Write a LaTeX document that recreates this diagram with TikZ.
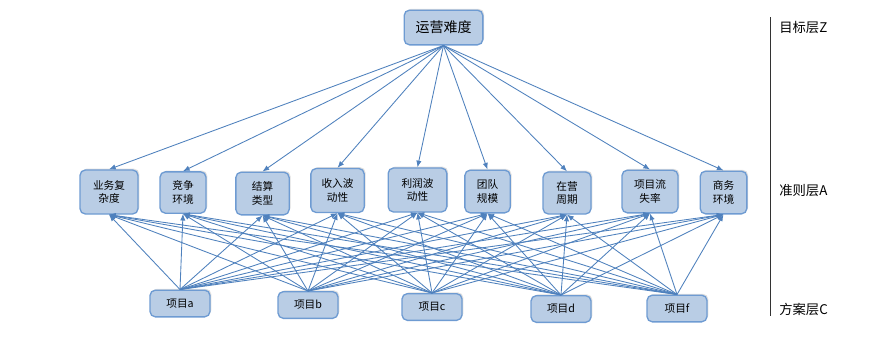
\documentclass[tikz,border=0pt]{standalone}
\usepackage{fontspec}
\setmainfont{Noto Sans CJK SC}
\usepackage{xcolor}
\usetikzlibrary{arrows, arrows.meta, shadows}

\definecolor{boxfill}{RGB}{185,205,229}
\definecolor{boxline}{RGB}{110,155,210}
\definecolor{linkblue}{RGB}{79,129,189}

\tikzset{
  layerbox/.style={draw=boxline, line width=1pt, fill=boxfill, rounded corners=4pt,
    align=center, inner sep=0pt, font=\fontsize{8}{10}\selectfont,
    drop shadow={opacity=0.25, shadow xshift=1pt, shadow yshift=1pt}},
  link/.style={draw=linkblue, line width=0.65pt, -{Latex[length=5pt,width=4pt]}},
  layerlabel/.style={anchor=west, inner sep=0pt, font=\fontsize{10}{12}\selectfont}
}

\begin{document}
\begin{tikzpicture}[x=0.75pt,y=0.75pt,yscale=-1,xscale=1]
\useasboundingbox (0,0) rectangle (895,336);

% goal
\node [layerbox, minimum width=59pt, minimum height=26pt, font=\fontsize{10.5}{12}\selectfont] (goal) at (443.5,27.5) {运营难度};

% criteria
\node [layerbox, minimum width=43.5pt, minimum height=33pt] (crit1) at (109,192) {业务复\\杂度};
\node [layerbox, minimum width=34.5pt, minimum height=31pt] (crit2) at (183,192.5) {竞争\\环境};
\node [layerbox, minimum width=40pt, minimum height=32pt] (crit3) at (262.5,193.5) {结算\\类型};
\node [layerbox, minimum width=40pt, minimum height=33pt] (crit4) at (337.5,190.5) {收入波\\动性};
\node [layerbox, minimum width=44pt, minimum height=33pt] (crit5) at (417.5,190) {利润波\\动性};
\node [layerbox, minimum width=34pt, minimum height=32pt] (crit6) at (487.5,191.5) {团队\\规模};
\node [layerbox, minimum width=36pt, minimum height=31.5pt] (crit7) at (567,193) {在营\\周期};
\node [layerbox, minimum width=42pt, minimum height=32pt] (crit8) at (650,191.5) {项目流\\失率};
\node [layerbox, minimum width=35pt, minimum height=32pt] (crit9) at (723.5,192.5) {商务\\环境};

% plans
\node [layerbox, minimum width=45pt, minimum height=20pt] (plana) at (180,303.5) {项目a};
\node [layerbox, minimum width=45pt, minimum height=20pt] (planb) at (308,305) {项目b};
\node [layerbox, minimum width=45pt, minimum height=20pt] (planc) at (432,307) {项目c};
\node [layerbox, minimum width=45pt, minimum height=20pt] (pland) at (561,309) {项目d};
\node [layerbox, minimum width=45pt, minimum height=20pt] (planf) at (677,308.5) {项目f};

% goal -> criteria
\draw [link] (goal.south) -- (crit1.north);
\draw [link] (goal.south) -- (crit2.north);
\draw [link] (goal.south) -- (crit3.north);
\draw [link] (goal.south) -- (crit4.north);
\draw [link] (goal.south) -- (crit5.north);
\draw [link] (goal.south) -- (crit6.north);
\draw [link] (goal.south) -- (crit7.north);
\draw [link] (goal.south) -- (crit8.north);
\draw [link] (goal.south) -- (crit9.north);

% plan a -> criteria
\draw [link] (plana.north) -- (crit1.south);
\draw [link] (plana.north) -- (crit2.south);
\draw [link] (plana.north) -- (crit3.south);
\draw [link] (plana.north) -- (crit4.south);
\draw [link] (plana.north) -- (crit5.south);
\draw [link] (plana.north) -- (crit6.south);
\draw [link] (plana.north) -- (crit7.south);
\draw [link] (plana.north) -- (crit8.south);
\draw [link] (plana.north) -- (crit9.south);

% plan b -> criteria
\draw [link] (planb.north) -- (crit1.south);
\draw [link] (planb.north) -- (crit2.south);
\draw [link] (planb.north) -- (crit3.south);
\draw [link] (planb.north) -- (crit4.south);
\draw [link] (planb.north) -- (crit5.south);
\draw [link] (planb.north) -- (crit6.south);
\draw [link] (planb.north) -- (crit7.south);
\draw [link] (planb.north) -- (crit8.south);
\draw [link] (planb.north) -- (crit9.south);

% plan c -> criteria
\draw [link] (planc.north) -- (crit1.south);
\draw [link] (planc.north) -- (crit2.south);
\draw [link] (planc.north) -- (crit3.south);
\draw [link] (planc.north) -- (crit4.south);
\draw [link] (planc.north) -- (crit5.south);
\draw [link] (planc.north) -- (crit6.south);
\draw [link] (planc.north) -- (crit7.south);
\draw [link] (planc.north) -- (crit8.south);
\draw [link] (planc.north) -- (crit9.south);

% plan d -> criteria
\draw [link] (pland.north) -- (crit1.south);
\draw [link] (pland.north) -- (crit2.south);
\draw [link] (pland.north) -- (crit3.south);
\draw [link] (pland.north) -- (crit4.south);
\draw [link] (pland.north) -- (crit5.south);
\draw [link] (pland.north) -- (crit6.south);
\draw [link] (pland.north) -- (crit7.south);
\draw [link] (pland.north) -- (crit8.south);
\draw [link] (pland.north) -- (crit9.south);

% plan f -> criteria
\draw [link] (planf.north) -- (crit1.south);
\draw [link] (planf.north) -- (crit2.south);
\draw [link] (planf.north) -- (crit3.south);
\draw [link] (planf.north) -- (crit4.south);
\draw [link] (planf.north) -- (crit5.south);
\draw [link] (planf.north) -- (crit6.south);
\draw [link] (planf.north) -- (crit7.south);
\draw [link] (planf.north) -- (crit8.south);
\draw [link] (planf.north) -- (crit9.south);

% layer axis
\coordinate (axtop) at (770,17);
\coordinate (axbot) at (770,316);
\draw [line width=0.6pt, color=black!80] (axtop) -- (axbot);

\node [layerlabel] (lblz) at (779,27) {目标层Z};
\node [layerlabel] (lbla) at (779,191) {准则层A};
\node [layerlabel] (lblc) at (779,309) {方案层C};

\end{tikzpicture}
\end{document}
